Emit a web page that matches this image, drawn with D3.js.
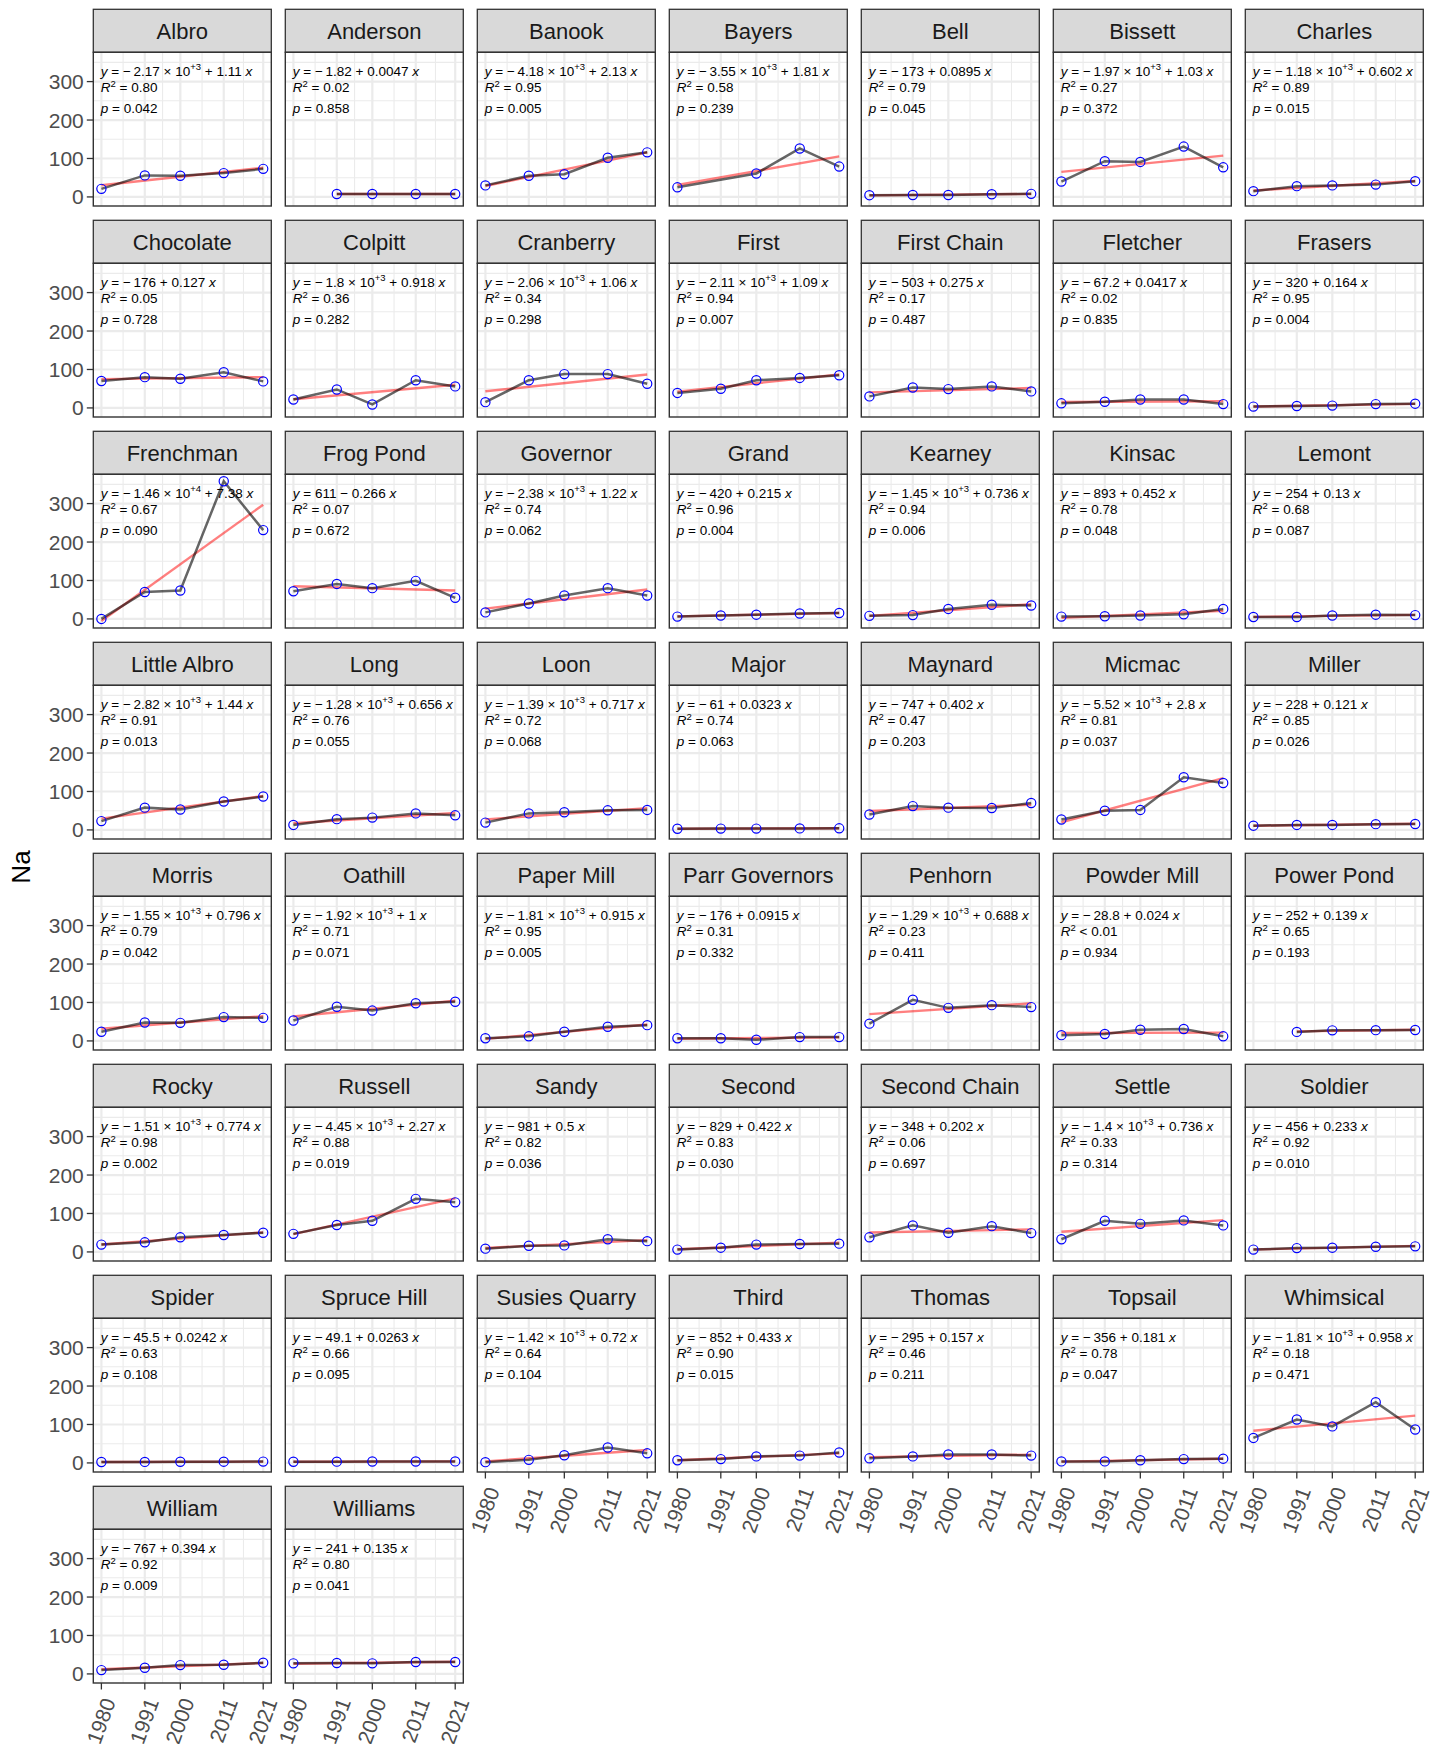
<!DOCTYPE html>
<html>
<head>
<meta charset="utf-8">
<script src="https://cdn.jsdelivr.net/npm/d3@7"></script>
<style>
  body { margin: 0; background: #fff; }
  svg { display: block; }
  text { font-family: "Liberation Sans", Arial, Helvetica, sans-serif; }
</style>
</head>
<body>
<svg id="chart" width="1446" height="1744"></svg>
<script>
// Sampling years (x breaks)
const years = [1980, 1991, 2000, 2011, 2021];

// Lakes, in facet order
const lakes = [
  "Albro", "Anderson", "Banook", "Bayers", "Bell", "Bissett", "Charles",
  "Chocolate", "Colpitt", "Cranberry", "First", "First Chain", "Fletcher", "Frasers",
  "Frenchman", "Frog Pond", "Governor", "Grand", "Kearney", "Kinsac", "Lemont",
  "Little Albro", "Long", "Loon", "Major", "Maynard", "Micmac", "Miller",
  "Morris", "Oathill", "Paper Mill", "Parr Governors", "Penhorn", "Powder Mill", "Power Pond",
  "Rocky", "Russell", "Sandy", "Second", "Second Chain", "Settle", "Soldier",
  "Spider", "Spruce Hill", "Susies Quarry", "Third", "Thomas", "Topsail", "Whimsical",
  "William", "Williams"
];

// Na concentration per lake, one value per year (null = not sampled)
const naValues = [
  [21, 56, 55, 62, 73], [null, 7.5, 7.7, 7.5, 7.7], [30, 55, 59, 102, 116], [25, null, 61, 126, 79],
  [4.5, 5, 5, 7, 8], [40, 93, 91, 131, 77], [15, 28, 30, 32, 41],
  [70, 80, 76, 93, 69], [22, 48, 9, 72, 56], [15, 72, 88, 88, 63], [39, 50, 72, 78, 85],
  [30, 53, 49, 56, 43], [12, 16, 22, 22, 10], [3.5, 5, 6, 10, 11],
  [0, 70, 74, 358, 231], [72, 91, 80, 99, 55], [17, 40, 61, 80, 61], [6, 9, 11, 14, 15.5],
  [8, 10, 26, 37, 35], [6, 7, 9, 12, 26], [5, 5, 9, 11, 10],
  [23, 58, 53, 74, 87], [13, 28, 32, 43, 38], [19, 43, 46, 51, 52], [3, 3.5, 3.4, 4, 4.2],
  [40, 62, 58, 57, 70], [27, 50, 52, 137, 122], [11, 13, 13, 15, 15.5],
  [24, 48, 47, 62, 60], [53, 89, 79, 98, 102], [7, 12, 24, 37, 41], [7, 7, 3, 10, 10],
  [45, 107, 86, 93, 88], [15, 18, 29, 31, 12], [null, 23.5, 27.5, 28, 28.5],
  [19, 25, 38, 44, 50], [47, 70, 81, 138, 129], [8.5, 16, 17, 33, 28], [6, 11, 19, 20.5, 21.5],
  [38, 69, 50, 67, 49], [33, 81, 73, 82, 69], [6, 10, 11, 13.5, 14.5],
  [2.5, 2.7, 3, 3.2, 3.5], [3, 3.3, 3.7, 3.6, 4], [2, 8, 20, 40, 25], [7, 10, 17, 19, 27],
  [12, 17, 22, 22, 19], [4, 4, 7, 10, 11], [65, 113, 95, 158, 87],
  [10, 16, 23, 24, 29], [27.5, 28.5, 27.5, 31, 31]
];

// Linear fit: intercept, slope, R² and p-value per lake
const intercepts = [
  -2170, -1.82, -4180, -3550, -173, -1970, -1180,
  -176, -1800, -2060, -2110, -503, -67.2, -320,
  -14600, 611, -2380, -420, -1450, -893, -254,
  -2820, -1280, -1390, -61, -747, -5520, -228,
  -1550, -1920, -1810, -176, -1290, -28.8, -252,
  -1510, -4450, -981, -829, -348, -1400, -456,
  -45.5, -49.1, -1420, -852, -295, -356, -1810,
  -767, -241
];
const slopes = [
  1.11, 0.0047, 2.13, 1.81, 0.0895, 1.03, 0.602,
  0.127, 0.918, 1.06, 1.09, 0.275, 0.0417, 0.164,
  7.38, -0.266, 1.22, 0.215, 0.736, 0.452, 0.13,
  1.44, 0.656, 0.717, 0.0323, 0.402, 2.8, 0.121,
  0.796, 1, 0.915, 0.0915, 0.688, 0.024, 0.139,
  0.774, 2.27, 0.5, 0.422, 0.202, 0.736, 0.233,
  0.0242, 0.0263, 0.72, 0.433, 0.157, 0.181, 0.958,
  0.394, 0.135
];
const rSquared = [
  0.80, 0.02, 0.95, 0.58, 0.79, 0.27, 0.89,
  0.05, 0.36, 0.34, 0.94, 0.17, 0.02, 0.95,
  0.67, 0.07, 0.74, 0.96, 0.94, 0.78, 0.68,
  0.91, 0.76, 0.72, 0.74, 0.47, 0.81, 0.85,
  0.79, 0.71, 0.95, 0.31, 0.23, 0.004, 0.65,
  0.98, 0.88, 0.82, 0.83, 0.06, 0.33, 0.92,
  0.63, 0.66, 0.64, 0.90, 0.46, 0.78, 0.18,
  0.92, 0.80
];
const pValues = [
  0.042, 0.858, 0.005, 0.239, 0.045, 0.372, 0.015,
  0.728, 0.282, 0.298, 0.007, 0.487, 0.835, 0.004,
  0.090, 0.672, 0.062, 0.004, 0.006, 0.048, 0.087,
  0.013, 0.055, 0.068, 0.063, 0.203, 0.037, 0.026,
  0.042, 0.071, 0.005, 0.332, 0.411, 0.934, 0.193,
  0.002, 0.019, 0.036, 0.030, 0.697, 0.314, 0.010,
  0.108, 0.095, 0.104, 0.015, 0.211, 0.047, 0.471,
  0.009, 0.041
];

const yTicks = [0, 100, 200, 300];
const yTitle = "Na";

// ---- layout ----
const nCol = 7;
const left0 = 93.3, colStep = 192, panelW = 178;
const top0 = 9.3, rowStep = 211, stripH = 43, panelH = 153.7;

const COL = {
  stripFill: "#D9D9D9", frame: "#333333", grid: "#EBEBEB",
  axisText: "#4D4D4D", strip: "#1A1A1A",
  fit: "#FF0000", obs: "#000000", point: "#0000FF"
};
const FS = { strip: 22, axis: 21, title: 26, label: 13.5 };

// Each lake's series and its fitted line (slope from the fit, through the centroid)
const series = lakes.map((name, i) => {
  const pts = years.map((yr, j) => ({ year: yr, value: naValues[i][j] }))
                   .filter(d => d.value != null);
  const mx = d3.mean(pts, d => d.year), my = d3.mean(pts, d => d.value);
  const b = slopes[i];
  const xr = d3.extent(pts, d => d.year);
  const fit = xr.map(xv => ({ year: xv, value: my + b * (xv - mx) }));
  return { name, pts, fit, i };
});

// Shared scales with 5% expansion
const xSpan = years[years.length - 1] - years[0];
const x = d3.scaleLinear()
  .domain([years[0] - 0.05 * xSpan, years[years.length - 1] + 0.05 * xSpan])
  .range([0, panelW]);
const allY = series.flatMap(s => s.pts.map(d => d.value).concat(s.fit.map(d => d.value)));
const [ymin, ymax] = d3.extent(allY);
const ySpan = ymax - ymin;
const y = d3.scaleLinear()
  .domain([ymin - 0.05 * ySpan, ymax + 0.05 * ySpan])
  .range([panelH, 0]);

// Grid breaks: majors at ticks, minors half-way between
const xMinor = d3.pairs(years).map(([a, b]) => (a + b) / 2);
const yMinor = [-50, 50, 150, 250, 350].filter(v => v >= y.domain()[0] && v <= y.domain()[1]);

const svg = d3.select("#chart");
svg.append("rect").attr("width", 1446).attr("height", 1744).attr("fill", "#fff");

const defs = svg.append("defs");
defs.append("clipPath").attr("id", "panel-clip")
  .append("rect").attr("width", panelW).attr("height", panelH);

const line = d3.line().x(d => x(d.year)).y(d => y(d.value));

// Format helpers for the fit labels
function sig3(v) {
  let s = Math.abs(v).toPrecision(3);
  if (s.includes("e")) return s;
  if (s.includes(".")) s = s.replace(/0+$/, "").replace(/\.$/, "");
  return s;
}

function addEquation(t, a, b) {
  t.append("tspan").attr("font-style", "italic").text("y");
  t.append("tspan").text(" = ");
  const aAbs = Math.abs(a);
  if (a < 0) t.append("tspan").text("\u2212\u2009");
  if (aAbs >= 1000) {
    const e = Math.floor(Math.log10(aAbs));
    let m = (aAbs / Math.pow(10, e)).toPrecision(3).replace(/0+$/, "").replace(/\.$/, "");
    t.append("tspan").text(m + " \u00D7 10");
    t.append("tspan").attr("font-size", 9.5).attr("dy", -5.5).text("+" + e);
    t.append("tspan").attr("dy", 5.5).text(" ");
  } else {
    t.append("tspan").text(sig3(a) + " ");
  }
  t.append("tspan").text((b < 0 ? "\u2212 " : "+ ") + sig3(b) + " ");
  t.append("tspan").attr("font-style", "italic").text("x");
}

series.forEach(s => {
  const r = Math.floor(s.i / nCol), c = s.i % nCol;
  const gx = left0 + c * colStep, gy = top0 + r * rowStep;
  const g = svg.append("g").attr("transform", `translate(${gx},${gy})`);

  // strip
  g.append("rect").attr("width", panelW).attr("height", stripH)
    .attr("fill", COL.stripFill).attr("stroke", COL.frame).attr("stroke-width", 1.3);
  g.append("text").attr("x", panelW / 2).attr("y", stripH / 2 + 8)
    .attr("text-anchor", "middle").attr("font-size", FS.strip).attr("fill", COL.strip)
    .text(s.name);

  const p = g.append("g").attr("transform", `translate(0,${stripH})`);
  p.append("rect").attr("width", panelW).attr("height", panelH).attr("fill", "#fff");

  // grid
  const grid = p.append("g").attr("clip-path", "url(#panel-clip)");
  grid.selectAll(".xmin").data(xMinor).join("line")
    .attr("x1", d => x(d)).attr("x2", d => x(d)).attr("y1", 0).attr("y2", panelH)
    .attr("stroke", COL.grid).attr("stroke-width", 1.1);
  grid.selectAll(".ymin").data(yMinor).join("line")
    .attr("y1", d => y(d)).attr("y2", d => y(d)).attr("x1", 0).attr("x2", panelW)
    .attr("stroke", COL.grid).attr("stroke-width", 1.1);
  grid.selectAll(".xmaj").data(years).join("line")
    .attr("x1", d => x(d)).attr("x2", d => x(d)).attr("y1", 0).attr("y2", panelH)
    .attr("stroke", COL.grid).attr("stroke-width", 2.2);
  grid.selectAll(".ymaj").data(yTicks).join("line")
    .attr("y1", d => y(d)).attr("y2", d => y(d)).attr("x1", 0).attr("x2", panelW)
    .attr("stroke", COL.grid).attr("stroke-width", 2.2);

  // marks
  const m = p.append("g").attr("clip-path", "url(#panel-clip)");
  m.append("path").datum(s.fit).attr("d", line)
    .attr("fill", "none").attr("stroke", COL.fit).attr("stroke-opacity", 0.5)
    .attr("stroke-width", 2.4);
  m.append("path").datum(s.pts).attr("d", line)
    .attr("fill", "none").attr("stroke", COL.obs).attr("stroke-opacity", 0.6)
    .attr("stroke-width", 2.5);
  m.selectAll("circle").data(s.pts).join("circle")
    .attr("cx", d => x(d.year)).attr("cy", d => y(d.value)).attr("r", 4.6)
    .attr("fill", "none").attr("stroke", COL.point).attr("stroke-width", 1.2);

  // fit labels
  const lab = p.append("g").attr("font-size", FS.label).attr("fill", "#000");
  const t1 = lab.append("text").attr("x", 7.5).attr("y", 23.5);
  addEquation(t1, intercepts[s.i], slopes[s.i]);
  const t2 = lab.append("text").attr("x", 7.5).attr("y", 40);
  t2.append("tspan").attr("font-style", "italic").text("R");
  t2.append("tspan").attr("font-size", 9.5).attr("dy", -5.5).text("2");
  const r2 = rSquared[s.i];
  t2.append("tspan").attr("dy", 5.5).text(r2 < 0.01 ? " < 0.01" : " = " + r2.toFixed(2));
  const t3 = lab.append("text").attr("x", 7.5).attr("y", 60.5);
  t3.append("tspan").attr("font-style", "italic").text("p");
  t3.append("tspan").text(" = " + pValues[s.i].toFixed(3));

  // frame
  p.append("rect").attr("width", panelW).attr("height", panelH)
    .attr("fill", "none").attr("stroke", COL.frame).attr("stroke-width", 1.4);

  // y axis on the first column
  if (c === 0) {
    const ya = p.append("g");
    yTicks.forEach(v => {
      ya.append("line").attr("x1", -6.5).attr("x2", 0).attr("y1", y(v)).attr("y2", y(v))
        .attr("stroke", COL.frame).attr("stroke-width", 1.3);
      ya.append("text").attr("x", -9.5).attr("y", y(v) + 7.5)
        .attr("text-anchor", "end").attr("font-size", FS.axis).attr("fill", COL.axisText)
        .text(v);
    });
  }

  // x axis under the lowest panel of each column
  const below = s.i + nCol;
  if (below >= lakes.length) {
    const xa = p.append("g").attr("transform", `translate(0,${panelH})`);
    years.forEach(v => {
      xa.append("line").attr("x1", x(v)).attr("x2", x(v)).attr("y1", 0).attr("y2", 6.5)
        .attr("stroke", COL.frame).attr("stroke-width", 1.3);
      xa.append("text")
        .attr("transform", `translate(${x(v) + 14.5},${6.5 + 12}) rotate(-70)`)
        .attr("text-anchor", "end").attr("font-size", FS.axis).attr("fill", COL.axisText)
        .text(v);
    });
  }
});

// y-axis title
svg.append("text")
  .attr("transform", "translate(30,867) rotate(-90)")
  .attr("text-anchor", "middle").attr("font-size", FS.title).attr("fill", "#000")
  .text(yTitle);
</script>
</body>
</html>
